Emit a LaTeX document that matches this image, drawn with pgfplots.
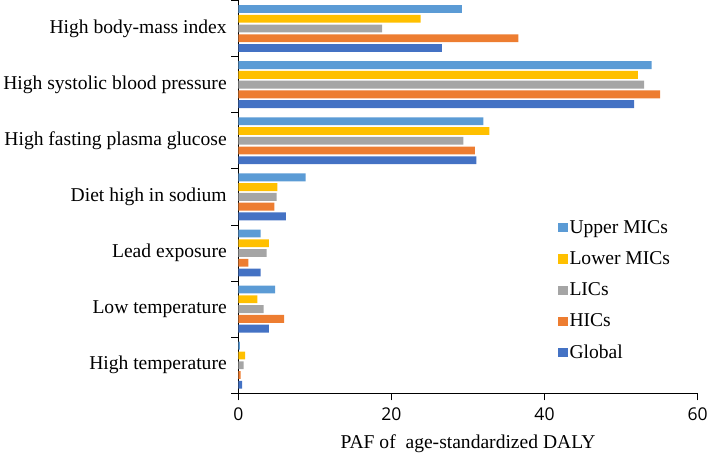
\documentclass[border=0pt]{standalone}
\usepackage{fontspec}
\setmainfont{Liberation Serif}
\newfontfamily\numfont{Open Sans}
\newfontfamily\legfont{Liberation Serif}
\usepackage{pgfplots}
\pgfplotsset{compat=1.18}

\definecolor{upmic}{HTML}{5B9BD5}
\definecolor{lowmic}{HTML}{FFC000}
\definecolor{lic}{HTML}{A5A5A5}
\definecolor{hic}{HTML}{ED7D31}
\definecolor{glob}{HTML}{4472C4}

\begin{document}
\begin{tikzpicture}
\begin{axis}[
  scale only axis,
  width=456bp, height=390bp,
  xmin=0, xmax=60,
  xtick={0,20,40,60},
  xticklabels={{\numfont 0},{\numfont 20},{\numfont 40},{\numfont 60}},
  ymin=-0.5, ymax=6.5,
  ytick={0,...,6},
  yticklabels={High temperature,Low temperature,Lead exposure,Diet high in sodium,High fasting plasma glucose,High systolic blood pressure,High body-mass index},
  minor ytick={-0.5,0.5,...,6.5},
  major tick length=7bp,
  minor tick length=7bp,
  major y tick style={draw=none},
  minor y tick style={draw=black, line width=0.8pt},
  x tick style={black, line width=0.8pt},
  tick align=outside,
  tick pos=left,
  axis x line*=bottom,
  axis y line*=left,
  axis line style={line width=0.9pt},
  xbar,
  bar width=0.14,
  yticklabel style={font=\fontsize{19.5}{22}\selectfont, align=right, xshift=-1bp},
  xticklabel style={font=\fontsize{17.5}{20}\selectfont, yshift=-4bp},
  xlabel={PAF of\ \ age-standardized DALY},
  xlabel style={font=\fontsize{19.5}{22}\selectfont, yshift=-7bp},
  legend style={draw=none, fill=none, at={(0.69,0.45)}, anchor=north west,
    font=\legfont\fontsize{19.5}{22}\selectfont, row sep=12.5bp,
    legend cell align=left},
  legend image code/.code={\fill[#1] (0bp,-4.5bp) rectangle (9bp,4.5bp);},
]
% one series per income group, from top bar to bottom bar in each group
\addplot[draw=none, fill=upmic, bar shift=0.348] coordinates {
  (0.2,0) (4.8,1) (2.9,2) (8.8,3) (32.0,4) (54.0,5) (29.2,6)};
\addplot[draw=none, fill=lowmic, bar shift=0.174] coordinates {
  (0.9,0) (2.5,1) (4.0,2) (5.1,3) (32.8,4) (52.2,5) (23.8,6)};
\addplot[draw=none, fill=lic, bar shift=0] coordinates {
  (0.7,0) (3.3,1) (3.7,2) (5.0,3) (29.4,4) (53.0,5) (18.8,6)};
\addplot[draw=none, fill=hic, bar shift=-0.174] coordinates {
  (0.3,0) (6.0,1) (1.3,2) (4.7,3) (30.9,4) (55.1,5) (36.6,6)};
\addplot[draw=none, fill=glob, bar shift=-0.348] coordinates {
  (0.5,0) (4.0,1) (2.9,2) (6.2,3) (31.1,4) (51.7,5) (26.6,6)};
\addlegendentry{\legfont Upper MICs}
\addlegendentry{\legfont Lower MICs}
\addlegendentry{\legfont LICs}
\addlegendentry{\legfont HICs}
\addlegendentry{\legfont Global}
\end{axis}
\end{tikzpicture}
\end{document}
